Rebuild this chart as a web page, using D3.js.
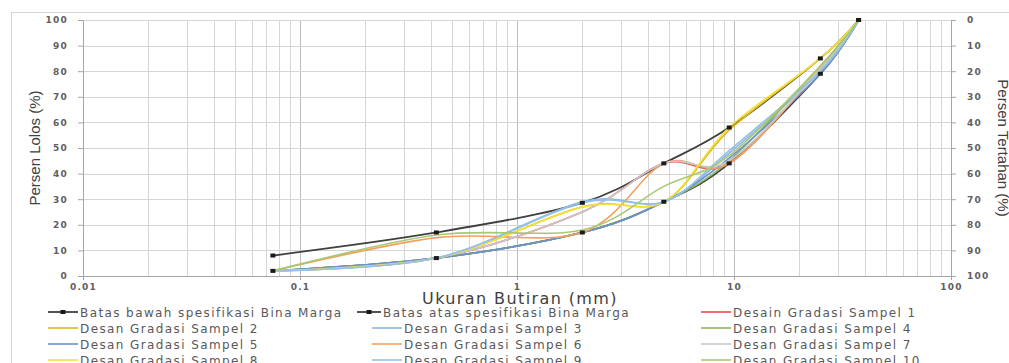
<!DOCTYPE html>
<html>
<head>
<meta charset="utf-8">
<script src="https://cdn.jsdelivr.net/npm/d3@7"></script>
<style>
  body { margin: 0; background: #fff; }
  svg { display: block; }
  .tick-lbl { font-family: "DejaVu Sans", sans-serif; font-size: 9px; font-weight: bold; fill: #606060; letter-spacing: 1.2px; }
  .legend text { font-family: "DejaVu Sans", sans-serif; font-size: 12px; fill: #595959; letter-spacing: 1.4px; }
</style>
</head>
<body>
<script>
// sieve sizes (mm) and percent passing
var sieve = [0.075, 0.425, 2.0, 4.75, 9.5, 25, 37.5];
var batasBawah = [2, 7, 17, 29, 44, 79, 100];
var batasAtas = [8, 17, 28.6, 44, 58, 85, 100];

var sampel1 = [2, 7, 25, 44, 44, 81, 100];
var sampel2 = [2, 7, 27, 29, 57, 85, 100];
var sampel3 = [2, 7, 29, 29, 48, 80, 100];
var sampel4 = [2, 7, 17, 29, 45, 82, 100];
var sampel5 = [2, 7, 17, 29, 46, 79, 100];
var sampel6 = [2, 15, 17, 44, 44, 81, 100];
var sampel7 = [2, 7, 25, 44, 45, 81, 100];
var sampel8 = [2, 7, 27, 29, 58, 85, 100];
var sampel9 = [2, 7, 28.6, 29, 49, 80, 100];
var sampel10 = [2, 16, 18, 35, 47, 82, 100];

var seriesNames = [
  "Batas bawah spesifikasi Bina Marga", "Batas atas spesifikasi Bina Marga",
  "Desain Gradasi Sampel 1", "Desan Gradasi Sampel 2", "Desan Gradasi Sampel 3",
  "Desan Gradasi Sampel 4", "Desan Gradasi Sampel 5", "Desan Gradasi Sampel 6",
  "Desan Gradasi Sampel 7", "Desan Gradasi Sampel 8", "Desan Gradasi Sampel 9",
  "Desan Gradasi Sampel 10"
];
var seriesValues = [batasBawah, batasAtas, sampel1, sampel2, sampel3, sampel4,
  sampel5, sampel6, sampel7, sampel8, sampel9, sampel10];
var seriesColors = ["#404040", "#404040", "#f04a4a", "#e3b51c", "#8db4e2", "#8fb35e",
  "#6a93cc", "#f4a05c", "#c8c8c8", "#f2e23a", "#93c2e6", "#a9c872"];

var xTicks = [0.01, 0.1, 1, 10, 100];
var xTickLabels = ["0.01", "0.1", "1", "10", "100"];
var yTicks = [0, 10, 20, 30, 40, 50, 60, 70, 80, 90, 100];

var width = 1009, height = 363;
var margins = {top: 20, left: 83, right: 58, bottom: 87};

var svg = d3.select("body").append("svg")
  .attr("width", width).attr("height", height);

// chart frame
svg.append("rect")
  .attr("x", 11.5).attr("y", 12.5)
  .attr("width", width).attr("height", height)
  .attr("fill", "none").attr("stroke", "#d4d4d4");

var x = d3.scaleLog().domain([0.01, 100]).range([margins.left, width - margins.right]);
var y = d3.scaleLinear().domain([0, 100]).range([height - margins.bottom, margins.top]);
var yR = d3.scaleLinear().domain([0, 100]).range([margins.top, height - margins.bottom]);

var grid = svg.append("g");
// vertical grid (log minor + major)
var vx = [];
xTicks.slice(0, -1).forEach(function(d) {
  for (var k = 1; k < 10; k++) vx.push(d * k);
});
vx.push(100);
grid.selectAll("line.v").data(vx).enter().append("line")
  .attr("x1", function(d) { return Math.round(x(d)) + 0.5; })
  .attr("x2", function(d) { return Math.round(x(d)) + 0.5; })
  .attr("y1", y(0)).attr("y2", y(100))
  .attr("stroke", function(d) { return xTicks.indexOf(d) >= 0 ? "#bdbdbd" : "#d6d6d6"; })
  .attr("stroke-width", 1);
grid.selectAll("line.h").data(yTicks).enter().append("line")
  .attr("x1", x(0.01)).attr("x2", x(100))
  .attr("y1", function(d) { return Math.round(y(d)) + 0.5; })
  .attr("y2", function(d) { return Math.round(y(d)) + 0.5; })
  .attr("stroke", "#d6d6d6");

// axes
var leftAxis = svg.append("g")
  .attr("transform", "translate(" + x(0.01) + ",0)")
  .call(d3.axisLeft(y).tickValues(yTicks).tickSize(5).tickPadding(10));
var rightAxis = svg.append("g")
  .attr("transform", "translate(" + x(100) + ",0)")
  .call(d3.axisRight(yR).tickValues(yTicks).tickSize(5).tickPadding(11));
var bottomAxis = svg.append("g")
  .attr("transform", "translate(0," + y(0) + ")")
  .call(d3.axisBottom(x).tickValues(xTicks)
    .tickFormat(function(d, i) { return xTickLabels[i]; })
    .tickSize(4).tickPadding(4));

[leftAxis, rightAxis, bottomAxis].forEach(function(g) {
  g.select(".domain").attr("stroke", "#a6a6a6");
  g.selectAll(".tick line").attr("stroke", "#a6a6a6");
  g.selectAll(".tick text").attr("class", "tick-lbl").attr("font-family", null).attr("font-size", null);
});

// axis titles
svg.append("text")
  .attr("transform", "translate(40,148) rotate(-90)")
  .attr("text-anchor", "middle")
  .attr("font-family", "'Liberation Sans Narrow', 'Liberation Sans', sans-serif")
  .attr("font-size", 15).attr("fill", "#404040")
  .text("Persen Lolos (%)");
svg.append("text")
  .attr("transform", "translate(998,148) rotate(90)")
  .attr("text-anchor", "middle")
  .attr("font-family", "'Liberation Sans Narrow', 'Liberation Sans', sans-serif")
  .attr("font-size", 15).attr("fill", "#404040")
  .text("Persen Tertahan (%)");
svg.append("text")
  .attr("x", 520).attr("y", 304)
  .attr("text-anchor", "middle")
  .attr("font-family", "'DejaVu Sans', sans-serif")
  .attr("font-size", 16).attr("fill", "#404040")
  .attr("letter-spacing", 1.4)
  .text("Ukuran Butiran (mm)");

// lines
var line = d3.line()
  .x(function(d) { return x(d[0]); })
  .y(function(d) { return y(d[1]); })
  .curve(d3.curveCardinal.tension(0));

var body = svg.append("g");
seriesValues.forEach(function(vals, i) {
  var pts = vals.map(function(v, j) { return [sieve[j], v]; });
  body.append("path")
    .datum(pts)
    .attr("d", line)
    .attr("fill", "none")
    .attr("stroke", seriesColors[i])
    .attr("stroke-width", i < 2 ? 1.8 : 1.6);
});
// markers on batas lines
[batasBawah, batasAtas].forEach(function(vals) {
  body.selectAll(null).data(vals).enter().append("rect")
    .attr("x", function(d, j) { return x(sieve[j]) - 2.5; })
    .attr("y", function(d) { return y(d) - 2; })
    .attr("width", 5).attr("height", 4)
    .attr("fill", "#1a1a1a");
});

// legend
var legendPos = [
  [48, 312], [357, 312], [701, 312],
  [48, 328], [372, 328], [701, 328],
  [48, 344], [372, 344], [701, 344],
  [48, 360], [372, 360], [701, 360]
];
var legend = svg.append("g").attr("class", "legend");
seriesNames.forEach(function(name, i) {
  var p = legendPos[i];
  var lw = i === 1 ? 24 : 30;
  var g = legend.append("g").attr("transform", "translate(" + p[0] + "," + p[1] + ")");
  g.append("line").attr("x1", 0).attr("x2", lw).attr("y1", 0).attr("y2", 0)
    .attr("stroke", seriesColors[i]).attr("stroke-width", i < 2 ? 1.8 : 1.6);
  if (i < 2) {
    g.append("rect").attr("x", lw / 2 - 2.5).attr("y", -2).attr("width", 5).attr("height", 4)
      .attr("fill", "#1a1a1a");
  }
  g.append("text").attr("x", lw + 2).attr("y", 4.5).text(name);
});
</script>
</body>
</html>
